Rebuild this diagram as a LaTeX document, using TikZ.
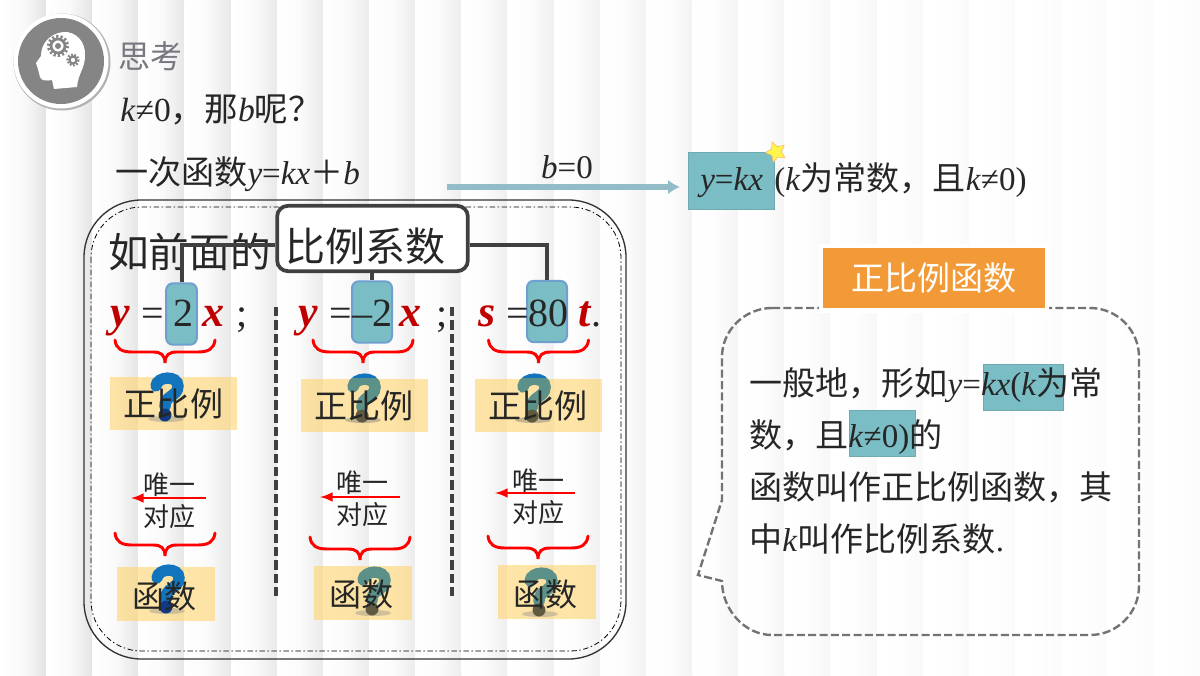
\documentclass[tikz,border=0pt]{standalone}
\usepackage{fontspec}
\setmainfont{Liberation Serif}
\newfontfamily\cjk{Noto Sans CJK SC}
\usetikzlibrary{arrows.meta,shapes.geometric}

\newcommand{\fsz}[1]{\fontsize{#1}{#1}\selectfont}
\newcommand{\zh}[1]{{\cjk #1}}
\newcommand{\vv}[1]{\textit{#1}}

\definecolor{teal1}{HTML}{7BBDC5}
\definecolor{blueedge}{HTML}{6F9FCF}
\definecolor{ink}{HTML}{262626}
\definecolor{qblue}{HTML}{1174BC}
\definecolor{qdark}{HTML}{123A80}
\definecolor{wine}{HTML}{C00000}
\definecolor{notey}{HTML}{FFD56E}
\definecolor{orangebox}{HTML}{F29A38}
\definecolor{arrowblue}{HTML}{93BCC9}

\tikzset{
    txt/.style={anchor=base west,inner sep=0pt,text=ink,font=\fsz{24.8pt}},
    mid/.style={anchor=base,inner sep=0pt,text=ink,font=\fsz{24.8pt}},
    sym/.style={anchor=base,inner sep=0pt,text=ink,font=\fsz{30pt}},
    var/.style={anchor=base,inner sep=0pt,text=wine,font=\fsz{33pt}\bfseries\itshape},
    hi/.style={fill=teal1,draw=teal1!90!black,line width=.5pt,inner sep=0pt},
    coef/.style={fill=teal1,draw=blueedge,line width=1.5pt,rounded corners=5pt,inner sep=0pt,
        minimum height=46pt,text=ink,font=\fsz{30pt}},
    note/.style={fill=notey,fill opacity=.6,inner sep=0pt,minimum width=95.5pt},
    brc/.pic={
        \draw[red,line width=2.2pt,line cap=round]
        (-50,0) .. controls (-49,9) and (-43,12) .. (-33,12) -- (-12,12)
        .. controls (-4,12) and (0,15) .. (0,23)
        .. controls (0,15) and (4,12) .. (12,12) -- (33,12)
        .. controls (43,12) and (49,9) .. (50,0);
    },
    qmark/.pic={
        \fill[black!45,opacity=.4] (0,46) ellipse (18 and 3);
        \draw[qblue,line width=8.5pt,line cap=round]
        (-10,13) .. controls (-9,3) and (12,2) .. (12,13)
        .. controls (12,24) and (-2,22) .. (-1,34);
        \fill[qdark] (-1,42) circle (6.5);
    },
    faded/.style={/utils/exec={\colorlet{qblue}{qfade}\colorlet{qdark}{qdot}}},
}
\definecolor{qfade}{HTML}{5B9189}
\definecolor{qdot}{HTML}{5F5A40}

\begin{document}
\begin{tikzpicture}[>=latex,x=.75pt,y=-.75pt]
    \useasboundingbox (0,0) rectangle (1200,675);
    \fill[white] (0,0) rectangle (1200,675);

    % stripes
    \foreach \i in {0,...,25}
    {
        \pgfmathsetmacro{\g}{max(1.5,11-\i*.45)}
        \pgfmathsetmacro{\gm}{\g*.2}
        \shade[left color=white,right color=black!\g!white,middle color=black!\gm!white]
        (\i*46.15,0) rectangle (\i*46.15+46.15,675);
    }

    % icon
    \fill[black!30] (62,62) circle (48.5);
    \fill[white] (61,61) circle (47.5);
    \fill[black!48] (61,61) circle (43);
    \fill[white] (63,32) .. controls (76,31) and (86,42) .. (85,56)
    .. controls (85,68) and (78,74) .. (77,87) -- (54,89) -- (52,80)
    .. controls (47,81) and (41,81) .. (40,77) -- (38,69) -- (36,63)
    -- (41,56) .. controls (41,44) and (49,34) .. (63,32) -- cycle;
    \draw[black!48,line width=2pt] (58,46) circle (7);
    \draw[black!48,line width=2.4pt,dash pattern=on 1.6pt off 1.6pt] (58,46) circle (9.5);
    \fill[black!48] (58,46) circle (3);
    \draw[black!48,line width=1.6pt] (73,60) circle (3.5);
    \draw[black!48,line width=1.8pt,dash pattern=on 1.3pt off 1.2pt] (73,60) circle (5.5);

    % head lines
    \node[txt,text=black!40!blue!6!gray,font=\fsz{24pt}] (title) at (118,68) {\zh{思考}};
    \node[txt,font=\fsz{25.2pt}] (ask) at (120,121) {\vv{k}≠0\zh{，那}\vv{b}\zh{呢？}};
    \node[txt] (linear) at (115,184) {\zh{一次函数}\vv{y}=\vv{kx}\zh{＋}\vv{b}};

    \coordinate (arrowL) at (447,187);
    \coordinate (arrowR) at (680,187);
    \draw[-{Latex[length=9pt,width=11pt]},color=arrowblue,line width=4.8pt] (arrowL)--(arrowR);
    \node[mid] (bzero) at (567,178) {\vv{b}=0};

    \node[hi,minimum width=64.5pt,minimum height=42.75pt] (hikx) at (731,180.5) {};
    \node[star,star points=5,star point ratio=.5,fill=yellow!70,draw=orange!60,line width=.4pt,
        inner sep=0pt,outer sep=0pt,minimum size=8pt,rotate=-15] (starmark) at (776,152) {};
    \node[txt] (ykx) at (700,190) {\vv{y}=\vv{kx}};
    \node[txt] (kcond) at (774,190) {(\vv{k}\zh{为常数，且}\vv{k}≠0)};

    % left frame
    \draw[black!80,line width=1pt,rounded corners=43pt] (84,200) rectangle (626,659);
    \draw[black,line width=.6pt,dash pattern=on 4pt off 2pt on 1pt off 2pt,rounded corners=38pt]
    (91,207) rectangle (621,651);
    \node[txt,font=\fsz{30.5pt}] (front) at (108,267) {\zh{如前面的}};

    \node[coef,minimum width=23pt] (coefA) at (181.5,314) {};
    \node[coef,minimum width=30pt] (coefB) at (372,312) {};
    \node[coef,minimum width=30pt] (coefC) at (547,311.5) {};
    \node[fill=white,draw=black!75,line width=2.8pt,rounded corners=8pt,inner sep=0pt,
        minimum width=143pt,minimum height=49pt] (ratio) at (372.5,238.5) {};
    \draw[black!75,line width=3pt] ([yshift=-4.9pt]ratio.west) -| (coefA.north);
    \draw[black!75,line width=3pt] (ratio.south -| coefB) -- (coefB.north);
    \draw[black!75,line width=3pt] ([yshift=-4.9pt]ratio.east) -| (coefC.north);
    \node[mid,font=\fsz{30pt}] (ratiotxt) at (365,261) {\zh{比例系数}};

    % equations
    \foreach \n/\lx/\eqx/\cx/\val/\rx/\sx/\sv/\lv/\rv in
    {a/120/153/183/2/213/242/;/y/x,b/308/341/372/--2/410/442/;/y/x,c/487/518/548/80/585/596/./s/t}
    {
        \node[var] (lvar\n) at (\lx,326) {\lv};
        \node[sym] (eq\n) at (\eqx,326) {=};
        \node[sym] (val\n) at (\cx,326) {\val};
        \node[var] (rvar\n) at (\rx,326) {\rv};
        \node[sym] (end\n) at (\sx,326) {\sv};
    }

    \draw[black!75,line width=2.4pt,dash pattern=on 7pt off 3pt] (276,307)--(276,598);
    \draw[black!75,line width=2.4pt,dash pattern=on 7pt off 3pt] (452,307)--(452,598);

    % top row of notes
    \pic at (165,340) {brc};
    \pic at (363,340) {brc};
    \pic at (538.5,340) {brc};
    \pic at (363,374) {qmark};
    \pic at (533,374) {qmark};
    \node[note,minimum height=39.75pt] (noteA) at (173.5,403.5) {};
    \node[note,minimum height=39.75pt] (noteB) at (364.5,405.5) {};
    \node[note,minimum height=39.75pt] (noteC) at (538.5,405.5) {};
    \begin{scope}[faded]
        \clip (noteB.south west) rectangle (noteB.north east);
        \pic at (363,374) {qmark};
    \end{scope}
    \begin{scope}[faded]
        \clip (noteC.south west) rectangle (noteC.north east);
        \pic at (533,374) {qmark};
    \end{scope}
    \pic at (166,373) {qmark};
    \foreach \n/\tx/\ty in {a/173.5/416,b/364/418,c/538/418}
    {
        \node[mid] (prop\n) at (\tx,\ty) {\zh{正比例}};
    }

    % arrows with the two words
    \foreach \n/\tx/\ua/\ub/\ay/\al/\ar in {a/169/494/526/498/131/206,b/362/492/524/497/320/400,c/538/490/522/493/495/575}
    {
        \node[mid,font=\fsz{19.5pt}] (only\n) at (\tx,\ua) {\zh{唯一}};
        \node[mid,font=\fsz{19.5pt}] (corr\n) at (\tx,\ub) {\zh{对应}};
        \coordinate (tail\n) at (\ar,\ay);
        \coordinate (head\n) at (\al,\ay);
        \draw[->,red,line width=2.2pt] (tail\n)--(head\n);
    }

    % bottom row of notes
    \pic at (165,533) {brc};
    \pic at (360,537) {brc};
    \pic at (538,536) {brc};
    \node[note,minimum width=73.5pt,minimum height=40.5pt] (funcA) at (166,594) {};
    \node[note,minimum width=73.5pt,minimum height=40.5pt] (funcB) at (363,592.5) {};
    \node[note,minimum width=73.5pt,minimum height=40.5pt] (funcC) at (547,592) {};
    \begin{scope}[faded]
        \pic at (373,567) {qmark};
        \pic at (540,568) {qmark};
    \end{scope}
    \pic at (167,565) {qmark};
    \foreach \n/\tx/\ty in {a/164/608,b/361/606,c/545/606}
    {
        \node[mid,font=\fsz{24pt}] (func\n) at (\tx,\ty) {\zh{函数}};
    }

    % callout
    \draw[black!55,line width=1.8pt,dash pattern=on 6pt off 2.5pt]
    (772,308) -- (1090,308) .. controls (1117,308) and (1139,330) .. (1139,357)
    -- (1139,586) .. controls (1139,613) and (1117,635) .. (1090,635)
    -- (772,635) .. controls (745,635) and (722,610) .. (722,581)
    -- (698,575) -- (722,500) -- (722,357)
    .. controls (722,330) and (745,308) .. (772,308);

    \node[fill=white,inner sep=0pt,minimum width=172.5pt,minimum height=52pt] (namehalo) at (934,278.5) {};
    \node[fill=orangebox,inner sep=0pt,minimum width=166.5pt,minimum height=45pt] (name) at (934,278) {};
    \node[mid,text=white] (nametxt) at (934,290) {\zh{正比例函数}};

    \node[hi,minimum width=60pt,minimum height=34.5pt] (hikxb) at (1023,387) {};
    \node[hi,minimum width=49.5pt,minimum height=34.5pt] (hineq) at (882,433) {};
    \node[txt] (defA) at (749,395) {\zh{一般地，形如}\vv{y}=\vv{kx}(\vv{k}\zh{为常}};
    \node[txt] (defB) at (749,447) {\zh{数，且}\vv{k}≠0)\zh{的}};
    \node[txt] (defC) at (749,499) {\zh{函数叫作正比例函数，其}};
    \node[txt] (defD) at (749,551) {\zh{中}\vv{k}\zh{叫作比例系数}.};
\end{tikzpicture}
\end{document}
